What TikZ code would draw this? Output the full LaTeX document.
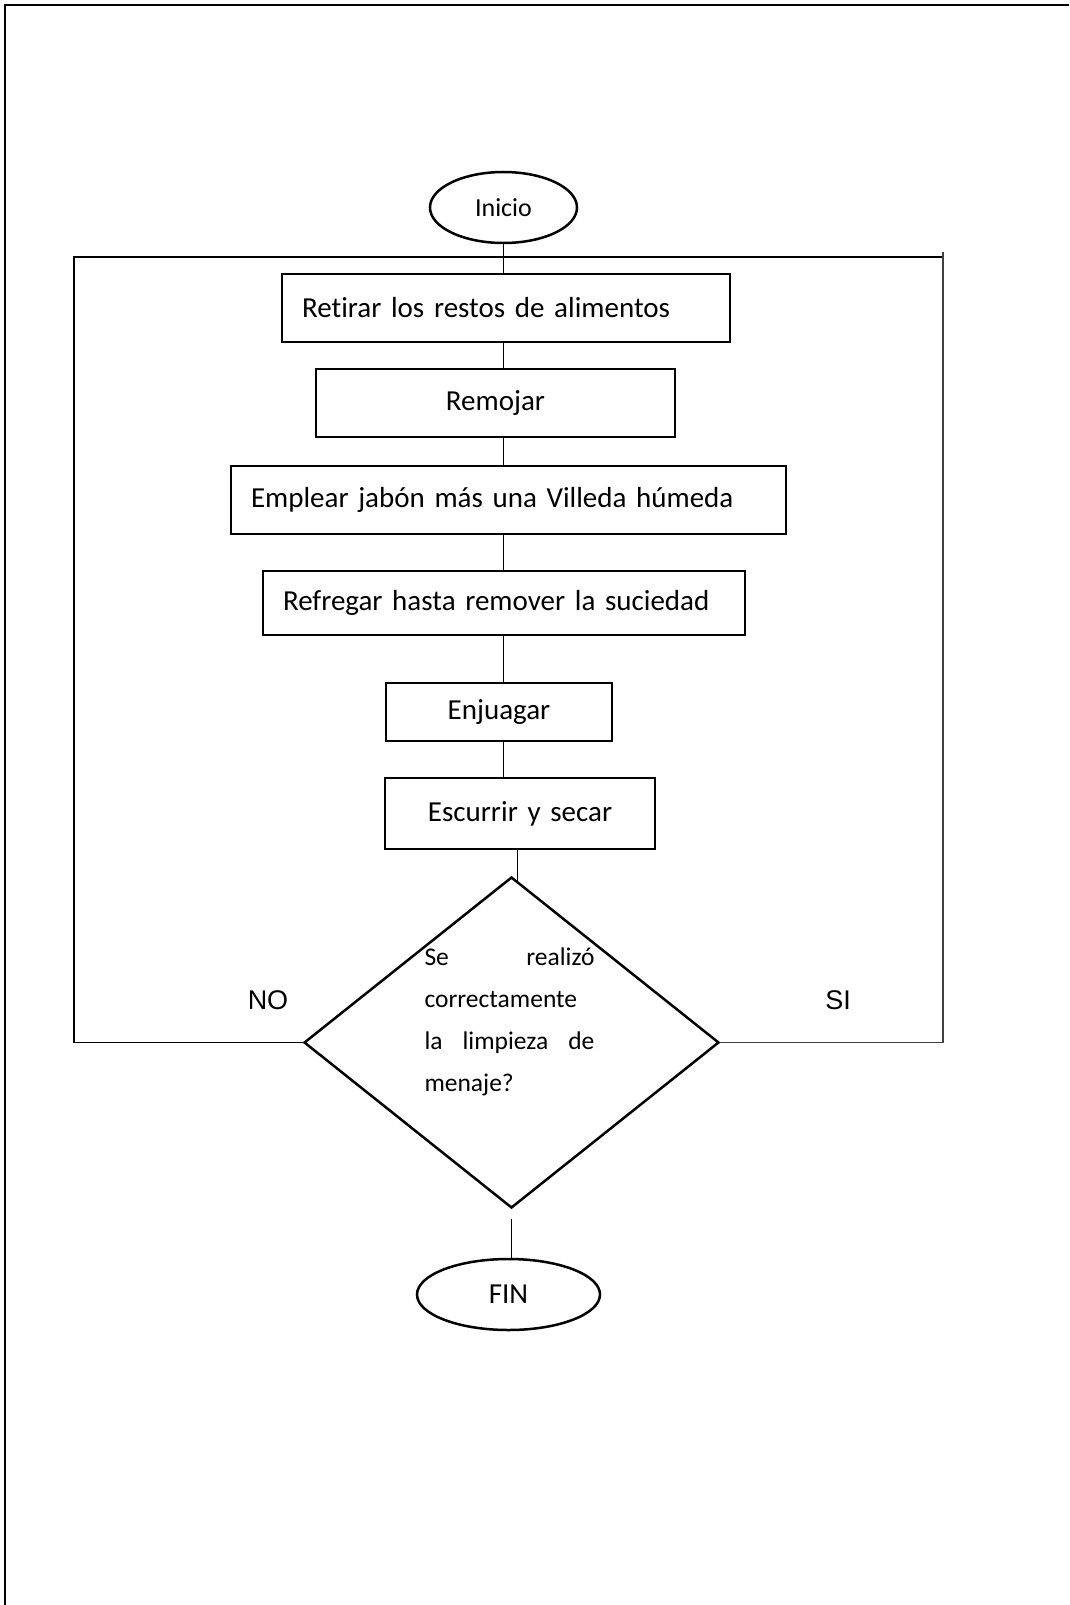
\documentclass[tikz,border=0pt]{standalone}
\usepackage{fontspec}
\setmainfont{Carlito}[Ligatures=NoCommon]
\newfontfamily\arialf{Liberation Sans}
\usetikzlibrary{shapes.geometric}
\begin{document}
\begin{tikzpicture}[x=1pt,y=-1pt,
  stepbox/.style={draw, rectangle, line width=2.5pt, inner xsep=20pt, inner ysep=0pt,
    font=\fontsize{29}{35}\selectfont},
  term/.style={draw, ellipse, line width=2.5pt, inner sep=0pt},
  conn/.style={line width=1.3pt},
  framel/.style={line width=1.6pt},
  lbl/.style={font=\arialf\fontsize{27}{32}\selectfont, inner sep=0pt}]
\useasboundingbox (0,0) rectangle (1069,1605);
\draw[line width=2.6pt] (1069,5) -- (5,5) -- (5,1605);

\node[term, minimum width=147pt, minimum height=71pt, font=\fontsize{26}{31}\selectfont] (ini) at (503.5,207.5) {Inicio};

\node[stepbox, minimum width=448pt, minimum height=68pt, text width=408pt, align=left] (b1) at (506,308) {Retirar los restos de alimentos};
\node[stepbox, minimum width=359pt, minimum height=68pt, text width=319pt, align=center] (b2) at (495.5,403) {Remojar};
\node[stepbox, minimum width=555pt, minimum height=68pt, text width=515pt, align=left] (b3) at (508.5,500) {Emplear jabón más una Villeda húmeda};
\node[stepbox, minimum width=482pt, minimum height=64pt, text width=442pt, align=left] (b4) at (504,603) {Refregar hasta remover la suciedad};
\node[stepbox, minimum width=226pt, minimum height=58pt, text width=186pt, align=center] (b5) at (499,712) {Enjuagar};
\node[stepbox, minimum width=270pt, minimum height=71pt, text width=230pt, align=center] (b6) at (520,813.5) {Escurrir y secar};

\node[draw, diamond, line width=2.5pt, minimum width=415pt, minimum height=331pt, inner sep=0pt] (dec) at (511.5,1042.5) {};
\node[font=\fontsize{25.5}{42}\selectfont, text width=170pt, align=left, inner sep=0pt] (dectxt) at (509.5,1022) {Se\hfill realizó\\correctamente\\la\hfill limpieza\hfill de\\menaje?};

\node[lbl] (no) at (268,1000) {NO};
\node[lbl] (si) at (838,1000) {SI};

\node[term, minimum width=183pt, minimum height=71pt, font=\fontsize{29}{35}\selectfont] (fin) at (508.5,1294.5) {FIN};

\draw[conn] (ini.south) -- (ini.south |- b1.north);
\draw[conn] (ini.south |- b1.south) -- (ini.south |- b2.north);
\draw[conn] (ini.south |- b2.south) -- (ini.south |- b3.north);
\draw[conn] (ini.south |- b3.south) -- (ini.south |- b4.north);
\draw[conn] (ini.south |- b4.south) -- (ini.south |- b5.north);
\draw[conn] (ini.south |- b5.south) -- (ini.south |- b6.north);
\coordinate (d1) at ([shift={(6,5)}]dec.north);
\draw[conn] (b6.south -| d1) -- (d1);
\coordinate (d2) at ([yshift=-10pt]dec.south);
\draw[conn] (d2) -- (d2 |- fin.north);

\coordinate (fbl) at (74,1042.5);
\coordinate (ftl) at (74,257);
\coordinate (ftr) at (943,257);
\coordinate (frt) at (943,252);
\coordinate (fbr) at (943,1042.5);
\draw[framel] (dec.west) -- (fbl) -- (ftl) -- (ftr);
\draw[framel, black!75] (frt) -- (fbr) -- (dec.east);
\end{tikzpicture}
\end{document}
